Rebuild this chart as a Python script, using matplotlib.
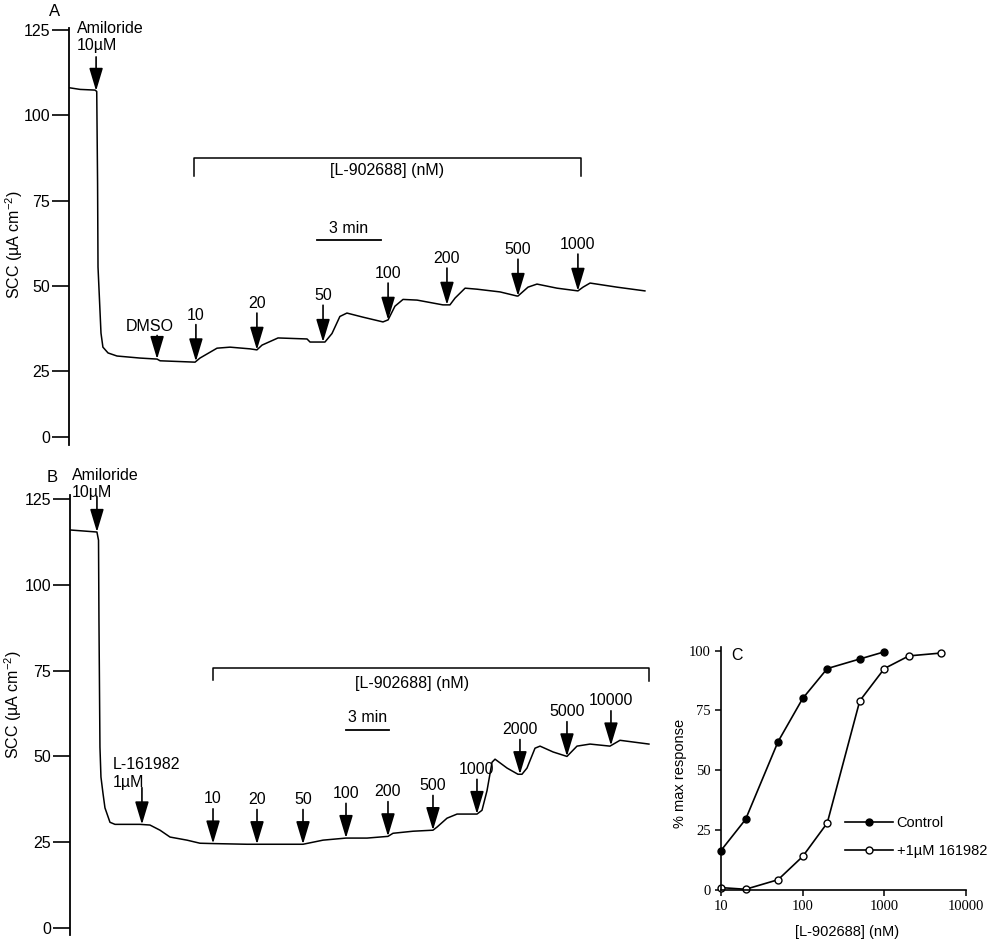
import numpy as np
import matplotlib
matplotlib.use('Agg')
import matplotlib.pyplot as plt

plt.rcParams['font.family'] = ['Liberation Sans', 'DejaVu Sans']
plt.rcParams['mathtext.fontset'] = 'custom'
plt.rcParams['mathtext.rm'] = 'Liberation Sans'

# Panel A trace: time (min) and short-circuit current (uA cm-2)
a_time = [0.0, 0.52, 1.22, 1.30, 1.34, 1.36, 1.43, 1.50, 1.59, 1.83, 2.25, 3.33,
          4.13, 4.27, 5.91, 6.14, 6.94, 7.55, 8.49, 8.81, 9.05, 9.80, 11.16,
          11.30, 12.00, 12.33, 12.70, 13.03, 13.78, 14.72, 14.96, 15.28, 15.66,
          16.32, 17.53, 17.86, 18.10, 18.57, 19.13, 20.21, 21.00, 21.05, 21.52,
          21.94, 22.88, 23.86, 24.10, 24.43, 25.69, 27.00]
a_scc = [108.1, 107.6, 107.4, 107.0, 80.0, 55.5, 45.8, 36.1, 32.0, 30.3, 29.4, 28.8,
         28.5, 28.0, 27.6, 28.8, 31.7, 32.0, 31.5, 31.2, 32.6, 34.7, 34.4,
         33.5, 33.5, 36.0, 41.0, 42.0, 40.8, 39.4, 40.0, 44.0, 46.0,
         45.8, 44.4, 44.4, 46.4, 49.3, 49.0, 48.2, 47.0, 47.0, 49.6,
         50.5, 49.3, 48.5, 49.6, 50.8, 49.6, 48.5]
a_amiloride_time = 1.27
a_dose_labels = ['DMSO', '10', '20', '50', '100', '200', '500', '1000']
a_dose_times = [4.13, 5.95, 8.81, 11.91, 14.96, 17.72, 21.05, 23.86]

# Panel B trace
b_time = [0.0, 1.88, 1.99, 2.02, 2.09, 2.16, 2.30, 2.44, 2.79, 3.14, 4.88, 5.58,
          6.28, 6.98, 8.16, 9.07, 9.98, 12.35, 16.26, 17.66, 19.26, 20.73,
          22.19, 22.54, 23.94, 25.33, 25.61, 26.31, 27.01, 28.40, 28.75, 29.10,
          29.45, 29.66, 30.50, 31.26, 31.54, 31.89, 32.45, 32.80, 33.71, 34.68,
          35.38, 36.29, 37.68, 38.38, 40.40]
b_scc = [116.0, 115.4, 113.0, 90.0, 52.7, 44.0, 39.3, 35.0, 30.8, 30.2, 30.2, 30.0,
         28.5, 26.5, 25.6, 24.7, 24.6, 24.4, 24.4, 25.6, 26.2, 26.2,
         26.7, 27.6, 28.2, 28.5, 29.4, 32.0, 33.2, 33.2, 34.3, 40.0,
         48.3, 49.2, 46.6, 44.8, 44.8, 46.6, 52.4, 53.0, 51.3, 50.0,
         53.0, 53.6, 53.0, 54.7, 53.6]
b_amiloride_time = 1.88
b_l161982_time = 5.02
b_dose_labels = ['10', '20', '50', '100', '200', '500', '1000', '2000', '5000', '10000']
b_dose_times = [9.98, 13.05, 16.26, 19.26, 22.19, 25.33, 28.40, 31.40, 34.68, 37.75]

# Panel C concentration-response
control_conc = [10, 20, 50, 100, 200, 500, 1000]
control_resp = [16.5, 29.5, 62, 80, 92.5, 96.5, 99.5]
blocked_conc = [10, 20, 50, 100, 200, 500, 1000, 2000, 5000]
blocked_resp = [1.0, 0.3, 4.3, 14, 28, 79, 92.5, 97.8, 99]

ARROW = dict(arrowstyle='-|>,head_length=1.4,head_width=0.42', color='k',
             lw=1.2, shrinkA=0, shrinkB=0)


def add_arrow(ax, t, times, vals, label, length=26, text_off=27, dx=0, ha='center'):
    tip = np.interp(t, times, vals)
    ax.annotate('', xy=(t, tip), xytext=(0, length), textcoords='offset points',
                arrowprops=ARROW)
    ax.annotate(label, xy=(t, tip), xytext=(dx, text_off), textcoords='offset points',
                ha=ha, va='bottom', fontsize=11.5, multialignment='left')


def style_trace_axis(ax):
    for s in ['top', 'right', 'bottom']:
        ax.spines[s].set_visible(False)
    ax.spines['left'].set_linewidth(1.3)
    ax.set_xticks([])
    ax.tick_params(axis='y', length=12, width=1.2, pad=1.5, labelsize=11.5)


fig = plt.figure(figsize=(10, 9.41), dpi=100)

# ---------------- Panel A ----------------
axA = fig.add_axes([0.069, 0.5271, 0.6, 0.4431])
axA.plot(a_time, a_scc, color='k', lw=1.1)
axA.set_xlim(0, 28.13)
axA.set_ylim(3.3, 125.6)
style_trace_axis(axA)
axA.set_yticks([5.65, 25, 50, 75, 100, 125])
axA.set_yticklabels(['0', '25', '50', '75', '100', '125'])
axA.set_ylabel('SCC (µA cm$^{-2}$)', fontsize=11.5)
axA.yaxis.set_label_coords(-0.074, 0.48)

add_arrow(axA, a_amiloride_time, a_time, a_scc, 'Amiloride\n10µM',
          length=24.5, text_off=27, dx=-14, ha='left')
for lab, t in zip(a_dose_labels, a_dose_times):
    if lab == 'DMSO':
        add_arrow(axA, t, a_time, a_scc, lab, length=17, text_off=18, dx=-5)
    else:
        add_arrow(axA, t, a_time, a_scc, lab, length=26.5, text_off=28)

axA.plot([5.86, 5.86, 24.0, 24.0], [82.2, 87.5, 87.5, 82.2], color='k', lw=1.1)
axA.text(14.9, 83.9, '[L-902688] (nM)', ha='center', va='center', fontsize=11.5)
axA.plot([11.63, 14.63], [63.4, 63.4], color='k', lw=1.3)
axA.text(13.13, 64.6, '3 min', ha='center', va='bottom', fontsize=11.5)
fig.text(0.055, 1 - 11 / 941, 'A', ha='center', va='center', fontsize=12)

# ---------------- Panel B ----------------
axB = fig.add_axes([0.070, 0.0064, 0.6, 0.4676])
axB.plot(b_time, b_scc, color='k', lw=1.1)
axB.set_xlim(0, 41.87)
axB.set_ylim(-2.04, 126.2)
style_trace_axis(axB)
axB.set_yticks([0, 25, 50, 75, 100, 125])
axB.set_ylabel('SCC (µA cm$^{-2}$)', fontsize=11.5)
axB.yaxis.set_label_coords(-0.076, 0.523)

add_arrow(axB, b_amiloride_time, b_time, b_scc, 'Amiloride\n10µM',
          length=25, text_off=23, dx=-18, ha='left')
add_arrow(axB, b_l161982_time, b_time, b_scc, 'L-161982\n1µM',
          length=26.5, text_off=25, dx=-21, ha='left')
for lab, t in zip(b_dose_labels, b_dose_times):
    add_arrow(axB, t, b_time, b_scc, lab, length=25, text_off=27)

axB.plot([9.98, 9.98, 40.4, 40.4], [72.2, 75.7, 75.7, 71.9], color='k', lw=1.1)
axB.text(23.9, 71.3, '[L-902688] (nM)', ha='center', va='center', fontsize=11.5)
axB.plot([19.26, 22.26], [57.6, 57.6], color='k', lw=1.3)
axB.text(20.76, 59.2, '3 min', ha='center', va='bottom', fontsize=11.5)
fig.text(0.052, 1 - 477 / 941, 'B', ha='center', va='center', fontsize=12)

# ---------------- Panel C ----------------
axC = fig.add_axes([0.721, 0.0542, 0.245, 0.2582])
axC.plot(control_conc, control_resp, color='k', lw=1.2, marker='o', ms=5,
         mfc='k', mec='k', clip_on=False, label='Control')
axC.plot(blocked_conc, blocked_resp, color='k', lw=1.2, marker='o', ms=5,
         mfc='white', mec='k', clip_on=False, label='+1µM 161982')
axC.set_xscale('log')
axC.set_xlim(10, 10000)
axC.set_ylim(0, 101.5)
axC.set_xticks([10, 100, 1000, 10000])
axC.set_xticklabels(['10', '100', '1000', '10000'])
axC.xaxis.set_minor_locator(matplotlib.ticker.NullLocator())
axC.set_yticks([0, 25, 50, 75, 100])
for s in ['top', 'right']:
    axC.spines[s].set_visible(False)
for s in ['left', 'bottom']:
    axC.spines[s].set_linewidth(1.2)
axC.tick_params(length=4.5, width=1.1, pad=3)
for lab in axC.get_xticklabels() + axC.get_yticklabels():
    lab.set_family('Liberation Serif')
    lab.set_fontsize(10.5)
axC.set_xlabel('[L-902688] (nM)', fontsize=10.5)
axC.xaxis.set_label_coords(0.515, -0.145)
axC.set_ylabel('% max response', fontsize=10.5)
axC.yaxis.set_label_coords(-0.14, 0.48)
axC.text(0.065, 0.965, 'C', transform=axC.transAxes, ha='center', va='center',
         fontsize=11.5)
axC.legend(loc='upper left', bbox_to_anchor=(0.506, 0.305), frameon=False,
           fontsize=10.5, handlelength=3.3, handletextpad=0.25, borderpad=0,
           borderaxespad=0, labelspacing=0.95)

fig.savefig('out.png', dpi=100)
